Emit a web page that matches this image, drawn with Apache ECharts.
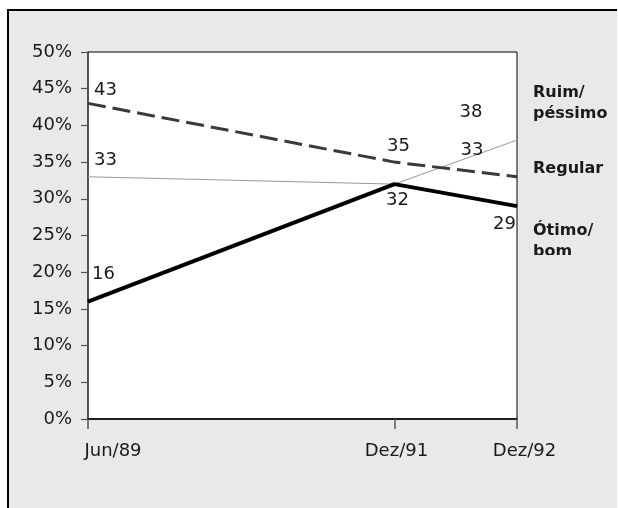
<!DOCTYPE html>
<html>
<head>
<meta charset="utf-8">
<script src="https://cdn.jsdelivr.net/npm/echarts@6/dist/echarts.min.js"></script>
<style>
  html, body { margin: 0; padding: 0; background: #fff; overflow: hidden; }
  #wrap { position: relative; width: 618px; height: 508px; overflow: hidden; }
  #frame { position: absolute; left: 7px; top: 9px; width: 608px; height: 497px;
           background: #e9e9e9; border-left: 2px solid #000; border-top: 2px solid #000; }
  #chart { position: absolute; left: 0; top: 0; width: 618px; height: 508px; }
</style>
</head>
<body>
<div id="wrap"><div id="frame"></div><div id="chart"></div></div>
<script>
// ---- data ----
const categories = ['Jun/89', 'Dez/91', 'Dez/92'];
const monthsFromStart = [0, 30, 42];          // survey dates, months after Jun/89
const ruimPessimo = [43, 35, 33];
const regular = [33, 32, 38];
const otimoBom = [16, 32, 29];
const seriesNames = ['Ruim/\npéssimo', 'Regular', 'Ótimo/\nbom'];
const yMin = 0, yMax = 50, yStep = 5;

// ---- label placement (style only) ----
const labelOffsets = {
  ruim:    [[17.5, -13], [4, -16], [-45, -26]],
  regular: [[17.5, -16], null, [-46, -28]],
  otimo:   [[15.5, -27], [3, 16], [-12.5, 18]]
};

const FONT = 'DejaVu Sans';

function buildData(values, offsets) {
  return values.map((v, i) => {
    const off = offsets[i];
    return {
      value: [monthsFromStart[i], v],
      label: off ? { show: true, position: 'inside', offset: off } : { show: false }
    };
  });
}

const labelStyle = {
  fontFamily: FONT, fontSize: 18, color: '#1a1a1a',
  align: 'center', verticalAlign: 'middle', formatter: p => String(p.value[1])
};

const xLabelPad = { 0: 50, 30: 4, 42: 15 };

const chart = echarts.init(document.getElementById('chart'), null, { renderer: 'canvas' });
chart.setOption({
  backgroundColor: 'transparent',
  animation: false,
  grid: {
    left: 88, right: 101, top: 52, bottom: 89,
    show: true, backgroundColor: '#fff', borderColor: '#000', borderWidth: 1
  },
  xAxis: {
    type: 'value', min: monthsFromStart[0], max: monthsFromStart[monthsFromStart.length - 1],
    splitLine: { show: false },
    axisLine: { show: true, lineStyle: { color: '#000', width: 1.5 } },
    axisTick: { show: true, customValues: monthsFromStart, length: 10, lineStyle: { color: '#555', width: 1.5 } },
    axisLabel: {
      customValues: monthsFromStart, margin: 23,
      fontFamily: FONT, fontSize: 18, color: '#1a1a1a',
      formatter: v => {
        const i = monthsFromStart.indexOf(v);
        return '{p' + v + '|' + categories[i] + '}';
      },
      rich: Object.fromEntries(monthsFromStart.map(m => ['p' + m, {
        fontFamily: FONT, fontSize: 18, color: '#1a1a1a', padding: [0, 0, 0, xLabelPad[m]]
      }]))
    }
  },
  yAxis: {
    type: 'value', min: yMin, max: yMax, interval: yStep,
    splitLine: { show: false },
    axisLine: { show: true, lineStyle: { color: '#444', width: 1.5 } },
    axisTick: { show: true, length: 7, lineStyle: { color: '#555', width: 1.2 } },
    axisLabel: { margin: 16, fontFamily: FONT, fontSize: 18, color: '#1a1a1a', formatter: '{value}%' }
  },
  series: [
    {
      name: seriesNames[1], type: 'line', data: buildData(regular, labelOffsets.regular),
      symbol: 'circle', symbolSize: 1, itemStyle: { color: '#999' },
      lineStyle: { color: '#999', width: 1 }, label: labelStyle, z: 2
    },
    {
      name: seriesNames[0], type: 'line', data: buildData(ruimPessimo, labelOffsets.ruim),
      symbol: 'circle', symbolSize: 1, itemStyle: { color: '#3a3a3a' },
      lineStyle: { color: '#3a3a3a', width: 3, type: [18, 7] }, label: labelStyle, z: 3
    },
    {
      name: seriesNames[2], type: 'line', data: buildData(otimoBom, labelOffsets.otimo),
      symbol: 'circle', symbolSize: 1, itemStyle: { color: '#000' },
      lineStyle: { color: '#000', width: 4 }, label: labelStyle, z: 4
    }
  ],
  graphic: [
    { type: 'text', left: 533, top: 82, z: 10,
      style: { text: seriesNames[0], fontFamily: FONT, fontSize: 16, fontWeight: 'bold', fill: '#1a1a1a', lineHeight: 21 } },
    { type: 'text', left: 533, top: 158, z: 10,
      style: { text: seriesNames[1], fontFamily: FONT, fontSize: 16, fontWeight: 'bold', fill: '#1a1a1a', lineHeight: 21 } },
    { type: 'text', left: 533, top: 220, z: 10,
      style: { text: seriesNames[2], fontFamily: FONT, fontSize: 16, fontWeight: 'bold', fill: '#1a1a1a', lineHeight: 21 } },
    { type: 'rect', shape: { x: 525, y: 255, width: 90, height: 12 }, z: 11,
      style: { fill: '#e9e9e9' } }
  ]
});
</script>
</body>
</html>
